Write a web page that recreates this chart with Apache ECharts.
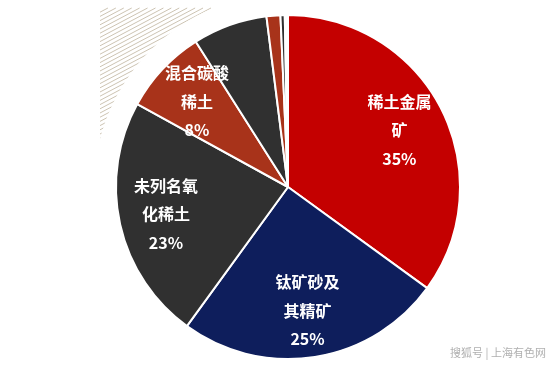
<!DOCTYPE html>
<html>
<head>
<meta charset="utf-8">
<script src="https://cdn.jsdelivr.net/npm/echarts@6/dist/echarts.min.js"></script>
<style>
html,body{margin:0;padding:0;background:#fff;}
#main{width:548px;height:375px;}
</style>
</head>
<body>
<div id="main"></div>
<script>
const categories = ['稀土金属\n矿', '钛矿砂及\n其精矿', '未列名氧\n化稀土', '混合碳酸\n稀土', '其他A', '其他B', '其他C', '其他D'];
const values = [35, 25, 23, 8, 7.0, 1.3, 0.4, 0.3];
const labelled = [true, true, true, true, false, false, false, false];
const sliceColors = ['#c40000', '#0e1e5c', '#303030', '#a8331a', '#303030', '#a8331a', '#303030', '#ffffff'];
const sourceText = '搜狐号 | 上海有色网';

const cx = 288, cy = 187, R = 172;

// decorative hatch lines (top-left)
const hatch = [];
const rx0 = 100, rx1 = 262, ry0 = 8, ry1 = 187;
const slope = 0.53, step = 4.2;
for (let b = ry0; b < ry1 + slope * (rx1 - rx0) + step; b += step) {
  let xa = rx0, xb = rx1;
  const xAtTop = rx0 + (b - ry0) / slope;
  const xAtBottom = rx0 + (b - ry1) / slope;
  xa = Math.max(xa, xAtBottom);
  xb = Math.min(xb, xAtTop);
  if (xb <= xa) continue;
  hatch.push({
    type: 'line', z: 0, silent: true,
    shape: { x1: xa, y1: b - slope * (xa - rx0), x2: xb, y2: b - slope * (xb - rx0) },
    style: { stroke: '#cdc4b3', lineWidth: 1 }
  });
}

const chart = echarts.init(document.getElementById('main'), null, { renderer: 'canvas' });
const mainData = categories.map((n, i) => ({ name: n, value: values[i], itemStyle: { color: sliceColors[i] } }));
const labelData = categories.map((n, i) => ({ name: n, value: values[i], label: { show: labelled[i] } }));

chart.setOption({
  animation: false,
  backgroundColor: '#ffffff',
  graphic: [
    ...hatch,
    { type: 'circle', z: 1, silent: true, shape: { cx: cx, cy: cy, r: 194 }, style: { fill: '#ffffff' } },
    { type: 'text', z: 5, left: 450, top: 347, style: { text: sourceText, fill: '#b0b0b0', font: '11px "Noto Sans CJK SC"' } }
  ],
  series: [
    {
      type: 'pie', z: 2,
      center: [cx, cy], radius: [0, R],
      startAngle: 90, clockwise: true,
      silent: true,
      label: { show: false }, labelLine: { show: false },
      itemStyle: { borderColor: '#ffffff', borderWidth: 2 },
      data: mainData
    },
    {
      type: 'pie', z: 3,
      center: [cx, cy], radius: [72, R],
      startAngle: 90, clockwise: true,
      silent: true,
      itemStyle: { color: 'rgba(0,0,0,0)', borderWidth: 0 },
      labelLine: { show: false },
      label: {
        position: 'inside',
        color: '#ffffff',
        fontSize: 16,
        fontWeight: 'bold',
        lineHeight: 28.5,
        fontFamily: '"Noto Sans CJK SC", sans-serif',
        formatter: p => p.name + '\n' + Math.round(p.percent) + '%'
      },
      data: labelData
    }
  ]
});
</script>
</body>
</html>
